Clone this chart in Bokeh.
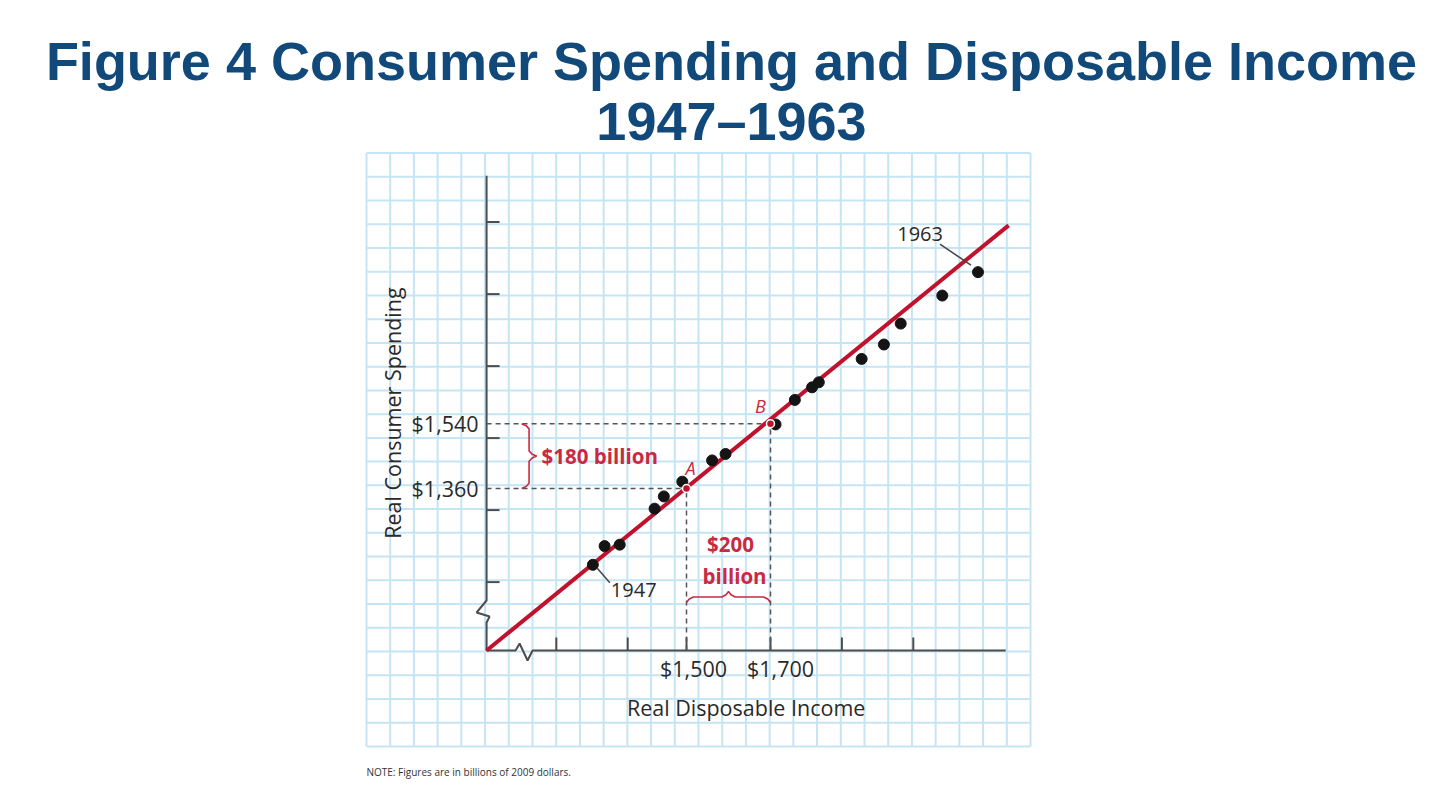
import numpy as np
from bokeh.plotting import figure
from bokeh.models import Range1d
from bokeh.core.properties import value
from bokeh.embed import file_html
from bokeh.resources import INLINE

# ---------------- data (billions of 2009 dollars) ----------------
years = list(range(1947, 1964))
income = [1277, 1305, 1341, 1424, 1446, 1490, 1561, 1593, 1712, 1758,
          1799, 1815, 1917, 1970, 2010, 2109, 2194]
spending = [1148, 1200, 1204, 1304, 1338, 1379, 1438, 1456, 1538, 1606,
            1641, 1655, 1720, 1760, 1818, 1896, 1961]
fit_income = [1024, 2267]
fit_spending = [910, 2091]
point_names = ["A", "B"]
point_income = [1500, 1700]
point_spending = [1360, 1540]
x_tick_values = [1190, 1360, 1500, 1700, 1870, 2040]
y_tick_values = [1100, 1300, 1500, 1700, 1900, 2100]
x_tick_labels = ["$1,500", "$1,700"]
y_tick_labels = ["$1,360", "$1,540"]
spend_gap_label = "$180 billion"
income_gap_label = ["$200", "billion"]
title_lines = ["Figure 4 Consumer Spending and Disposable Income", "1947\u20131963"]
x_title = "Real Disposable Income"
y_title = "Real Consumer Spending"
note = "NOTE: Figures are in billions of 2009 dollars."

# axis extent (data units)
X_MIN, X_MAX = 1024, 2260
Y_MIN, Y_MAX = 910, 2229

# ---------------- layout / scale ----------------
W, H = 1440, 792
X_REF, X_REF_PX, X_PPU = 1500, 686, 0.42
Y_REF, Y_REF_PY, Y_PPU = 1360, 488, 0.36

def ox(px):  # px offset -> data offset (x)
    return px / X_PPU

def oy(py):  # px offset (downwards) -> data offset (y)
    return -py / Y_PPU

RED = "#c0122c"
RED_TXT = "#c92a43"
DARK = "#2a2a2a"
AXIS = "#4d4d4d"
FONT = value("Open Sans")
FS = "21.5px"

p = figure(width=W, height=H,
           x_range=Range1d(X_REF - X_REF_PX / X_PPU, X_REF + (W - X_REF_PX) / X_PPU),
           y_range=Range1d(Y_REF - (H - Y_REF_PY) / Y_PPU, Y_REF + Y_REF_PY / Y_PPU),
           output_backend="svg", toolbar_location=None,
           x_axis_location=None, y_axis_location=None,
           min_border=0, outline_line_color=None,
           background_fill_color="white", border_fill_color="white")
p.grid.visible = False
p.extra_x_ranges = {"px": Range1d(0, W)}
p.extra_y_ranges = {"px": Range1d(H, 0)}
PX = dict(x_range_name="px", y_range_name="px")

# ---------------- graph paper ----------------
GL, GR, GT, GB = 366, 1030, 152.5, 746
vx = np.linspace(GL, GR, 29)
hy = np.linspace(GT, GB, 26)
p.segment(x0=vx, y0=GT, x1=vx, y1=GB, line_color="#c6e5f4", line_width=2, **PX)
p.segment(x0=GL, y0=hy, x1=GR, y1=hy, line_color="#c6e5f4", line_width=2, **PX)

# ---------------- title & note ----------------
p.text(x=[731, 731], y=[60, 120], text=title_lines,
       text_font=value("Liberation Sans"), text_font_style="bold",
       text_font_size="54px", text_color="#10497a",
       text_align="center", text_baseline="middle", **PX)
p.text(x=[GL], y=[771], text=[note], text_font=FONT, text_font_size="10px",
       text_color="#333333", text_align="left", text_baseline="middle", **PX)

# ---------------- axes (with break marks) ----------------
ax_x = [X_MIN, X_MIN, X_MIN + ox(-10), X_MIN + ox(3), X_MIN, X_MIN,
        X_MIN + ox(29), X_MIN + ox(33), X_MIN + ox(41), X_MIN + ox(46), X_MAX]
ax_y = [Y_MAX, Y_MIN + oy(-50), Y_MIN + oy(-38), Y_MIN + oy(-34), Y_MIN + oy(-28), Y_MIN,
        Y_MIN, Y_MIN + oy(-7), Y_MIN + oy(10), Y_MIN, Y_MIN]
p.line(ax_x, ax_y, line_color=AXIS, line_width=2)
p.segment(x0=X_MIN, y0=y_tick_values, x1=X_MIN + ox(13), y1=y_tick_values,
          line_color=AXIS, line_width=2)
p.segment(x0=x_tick_values, y0=Y_MIN, x1=x_tick_values, y1=Y_MIN + oy(-13),
          line_color=AXIS, line_width=2)

# dashed guides to A and B
p.segment(x0=X_MIN, y0=point_spending, x1=point_income, y1=point_spending,
          line_color="#555555", line_width=1.5, line_dash="5 4")
p.segment(x0=point_income, y0=Y_MIN, x1=point_income, y1=point_spending,
          line_color="#555555", line_width=1.5, line_dash="5 4")

# tick labels
p.text(x=X_MIN, y=point_spending, text=y_tick_labels, x_offset=-8,
       text_font=FONT, text_font_size=FS, text_color=DARK,
       text_align="right", text_baseline="middle")
p.text(x=point_income, y=Y_MIN, text=x_tick_labels, x_offset=[7, 10], y_offset=18,
       text_font=FONT, text_font_size=FS, text_color=DARK,
       text_align="center", text_baseline="middle")

# axis titles
p.text(x=[(X_MIN + X_MAX) / 2], y=[Y_MIN], text=[x_title], y_offset=57,
       text_font=FONT, text_font_size=FS, text_color=DARK,
       text_align="center", text_baseline="middle")
p.text(x=[X_MIN], y=[(Y_MIN + Y_MAX) / 2], text=[y_title], x_offset=-94,
       angle=np.pi / 2, text_font=FONT, text_font_size=FS, text_color=DARK,
       text_align="center", text_baseline="middle")

# ---------------- braces ----------------
bt = np.array([0, 0.03, 0.08, 0.42, 0.47, 0.5, 0.53, 0.58, 0.92, 0.97, 1.0])
bd = np.array([0, 0.3, 0.5, 0.5, 0.7, 1.0, 0.7, 0.5, 0.5, 0.3, 0])
# vertical brace (spending gap), pointing right
vb_y = point_spending[0] + bt * (point_spending[1] - point_spending[0])
vb_x = X_MIN + ox(35) + bd * ox(15)
p.line(vb_x, vb_y, line_color=RED_TXT, line_width=1.6)
# horizontal brace (income gap), pointing up
hb_x = point_income[0] + bt * (point_income[1] - point_income[0])
hb_y = Y_MIN + oy(-48) + bd * oy(-11)
p.line(hb_x, hb_y, line_color=RED_TXT, line_width=1.6)

p.text(x=[X_MIN], y=[sum(point_spending) / 2], text=[spend_gap_label], x_offset=55,
       text_font=FONT, text_font_size="20.5px", text_font_style="bold",
       text_color=RED_TXT, text_align="left", text_baseline="middle")
p.text(x=[sum(point_income) / 2] * 2, y=[Y_MIN] * 2, text=income_gap_label,
       x_offset=[2, 6], y_offset=[-107, -75],
       text_font=FONT, text_font_size="20.5px", text_font_style="bold",
       text_color=RED_TXT, text_align="center", text_baseline="middle")

# ---------------- fitted line & data ----------------
p.line(fit_income, fit_spending, line_color=RED, line_width=4)
p.scatter(income, spending, size=11, fill_color="#141414", line_color="#141414")
p.scatter(point_income, point_spending, size=8, fill_color=RED,
          line_color="white", line_width=1.5)
p.text(x=point_income, y=point_spending, text=point_names,
       x_offset=[4, -10], y_offset=[-21, -18],
       text_font=FONT, text_font_size="18px", text_font_style="italic",
       text_color=RED_TXT, text_align="center", text_baseline="middle")

# year call-outs
first, last = 0, len(years) - 1
p.segment(x0=[income[first] + ox(4), income[last] + ox(-7)],
          y0=[spending[first] + oy(3), spending[last] + oy(-7)],
          x1=[income[first] + ox(17), income[last] + ox(-38)],
          y1=[spending[first] + oy(18), spending[last] + oy(-28)],
          line_color="#444444", line_width=1.5)
p.text(x=[income[first], income[last]], y=[spending[first], spending[last]],
       text=[str(years[first]), str(years[last])],
       x_offset=[18, -35], y_offset=[25, -38],
       text_align=["left", "right"],
       text_font=FONT, text_font_size="20px", text_color=DARK,
       text_baseline="middle")

open("out.html", "w").write(file_html(p, INLINE))
